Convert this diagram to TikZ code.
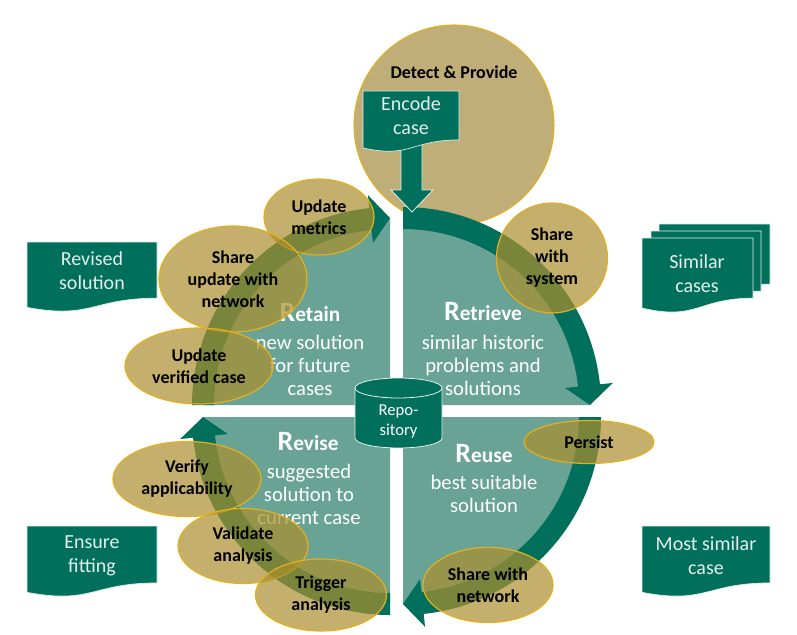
\documentclass[tikz,border=0pt]{standalone}
\usepackage{fontspec}
\setmainfont{Carlito}
\usetikzlibrary{shapes.geometric}
\definecolor{dteal}{RGB}{0,112,92}
\definecolor{lteal}{RGB}{104,163,150}
\definecolor{tanO}{RGB}{192,174,120}
\definecolor{tanT}{RGB}{172,143,46}
\definecolor{goldE}{RGB}{226,176,32}
\definecolor{paleT}{RGB}{228,238,234}
\def\pxu{0.75pt}
\newcommand\docshape[5]{%
  \path[docfill] (#2,#3) -- ({#2+#4},#3) -- ({#2+#4},{#3+0.802*#5})
    .. controls ({#2+0.5*#4},{#3+0.802*#5}) and ({#2+0.5*#4},{#3+1.107*#5}) .. (#2,{#3+0.934*#5}) -- cycle;
  \coordinate (#1) at ({#2+0.5*#4},{#3+0.41*#5});}
\newcommand\quadfill[4]{\begin{scope}[shift={(#1,#2)}]
  \fill[lteal] (0,0) -- (#3:187) arc[start angle=#3,end angle=#4,radius=187] -- cycle;\end{scope}}
\newcommand\quadarrow[4]{\begin{scope}[shift={(#1,#2)}]
  \fill[dteal] (#3:198) arc[start angle=#3,end angle={#4-6},radius=198] -- ({#4-6}:211) -- (#4:187)
   -- ({#4-6}:163) -- ({#4-6}:176) arc[start angle={#4-6},end angle=#3,radius=176] -- cycle;\end{scope}}
\newcommand\hdg[2]{{\fontsize{21}{25}\selectfont\bfseries #1}{\fontsize{16}{19}\selectfont\bfseries #2}}
\begin{document}
\begin{tikzpicture}[x=0.75pt,y=-0.75pt,
  docfill/.style={fill=dteal,draw=paleT,line width=0.5pt},
  boxtxt/.style={text=paleT,align=center,font=\fontsize{15}{18}\selectfont,inner sep=0pt},
  qtxt/.style={text=white,align=center,font=\fontsize{15.5}{17.25}\selectfont,inner sep=0pt},
  qhead/.style={text=white,anchor=base,inner sep=0pt},
  lbl/.style={text=black,align=center,font=\fontsize{13.5}{16.5}\selectfont\bfseries,inner sep=0pt},
  ell/.style={ellipse,draw=goldE,line width=0.9pt,fill=tanT,fill opacity=0.7,text opacity=1,
    inner sep=0pt,text=black,align=center,font=\fontsize{13.5}{16.5}\selectfont\bfseries}]
\useasboundingbox (0,0) rectangle (797,635);
\fill[white] (0,0) rectangle (797,635);
% top circle
\node[circle,fill=tanO,draw=goldE,line width=0.8pt,minimum size=200*\pxu,inner sep=0pt] (detect) at (454,125) {};
\node[lbl] (detecttxt) at (454,72) {Detect \& Provide};
% quadrant fills
\quadfill{403}{405}{-90}{0}
\quadfill{403}{417}{0}{90}
\quadfill{390}{417}{90}{180}
\quadfill{390}{405}{180}{270}
% circular arrows
\quadarrow{403}{405}{-90}{0}
\quadarrow{403}{417}{0}{90}
\quadarrow{390}{417}{90}{180}
\quadarrow{390}{405}{180}{270}
% quadrant texts
\node[qhead] (retainh) at (310,321) {\hdg{R}{etain}};
\node[qtxt] (retainb) at (310,365) {new solution\\for future\\cases};
\node[qhead] (retrieveh) at (483,320) {\hdg{R}{etrieve}};
\node[qtxt] (retrieveb) at (483,365) {similar historic\\problems and\\solutions};
\node[qhead] (reuseh) at (484,462) {\hdg{R}{euse}};
\node[qtxt] (reuseb) at (484,494) {best suitable\\solution};
\node[qhead] (reviseh) at (308,450) {\hdg{R}{evise}};
\node[qtxt] (reviseb) at (309,494) {suggested\\solution to\\current case};
% encode case and down arrow
\fill[dteal,draw=paleT,line width=0.6pt] (401,143) -- (401,190) -- (391,190) -- (412,212) -- (433,190) -- (422,190) -- (422,143) -- cycle;
\docshape{encodec}{363}{91}{96}{61}
\node[boxtxt] (encode) at (411,116) {Encode\\case};
% repository
\path[fill=dteal,draw=paleT,line width=0.6pt] (355,388) -- (355,438) arc[start angle=180,end angle=0,x radius=43.5,y radius=10] -- (442,388) arc[start angle=0,end angle=-180,x radius=43.5,y radius=10] -- cycle;
\draw[paleT,line width=0.6pt] (355,388) arc[start angle=180,end angle=0,x radius=43.5,y radius=10];
\node[text=white,align=center,font=\fontsize{12.5}{15}\selectfont,inner sep=0pt] (repo) at (398.5,421) {Repo-\\sitory};
% ellipses
\node[ell,minimum width=110*\pxu,minimum height=76*\pxu] (updmetrics) at (319,217) {Update\\metrics};
\node[ell,minimum width=148*\pxu,minimum height=106*\pxu] (shareupd) at (233,279) {Share\\update with\\network};
\node[ell,minimum width=148*\pxu,minimum height=76*\pxu] (updverified) at (199,366) {Update\\verified case};
\node[ell,minimum width=111*\pxu,minimum height=110*\pxu] (sharesys) at (552,258) {Share\\with\\system};
\node[ell,minimum width=130*\pxu,minimum height=43*\pxu] (persist) at (589,442) {Persist};
\node[ell,minimum width=130*\pxu,minimum height=75*\pxu] (sharenet) at (488,585) {Share with\\network};
\node[ell,minimum width=148*\pxu,minimum height=75*\pxu] (verify) at (187,479) {Verify\\applicability};
\node[ell,minimum width=130*\pxu,minimum height=75*\pxu] (validate) at (243,546) {Validate\\analysis};
\node[ell,minimum width=131*\pxu,minimum height=72*\pxu] (trigger) at (321,595) {Trigger\\analysis};
% side documents
\docshape{revc}{27}{242}{130}{70}
\node[boxtxt] (revised) at (92,271) {Revised\\solution};
\docshape{ensc}{27}{526}{130}{71}
\node[boxtxt] (ensure) at (92,556) {Ensure\\fitting};
\docshape{mostc}{642}{526}{128}{71}
\node[boxtxt] (most) at (706,556) {Most similar\\case};
\docshape{simc3}{659}{224}{111}{75}
\docshape{simc2}{651}{231}{110}{75}
\docshape{simc1}{642}{238}{111}{75}
\node[boxtxt] (similar) at (697,274) {Similar\\cases};
\end{tikzpicture}
\end{document}
